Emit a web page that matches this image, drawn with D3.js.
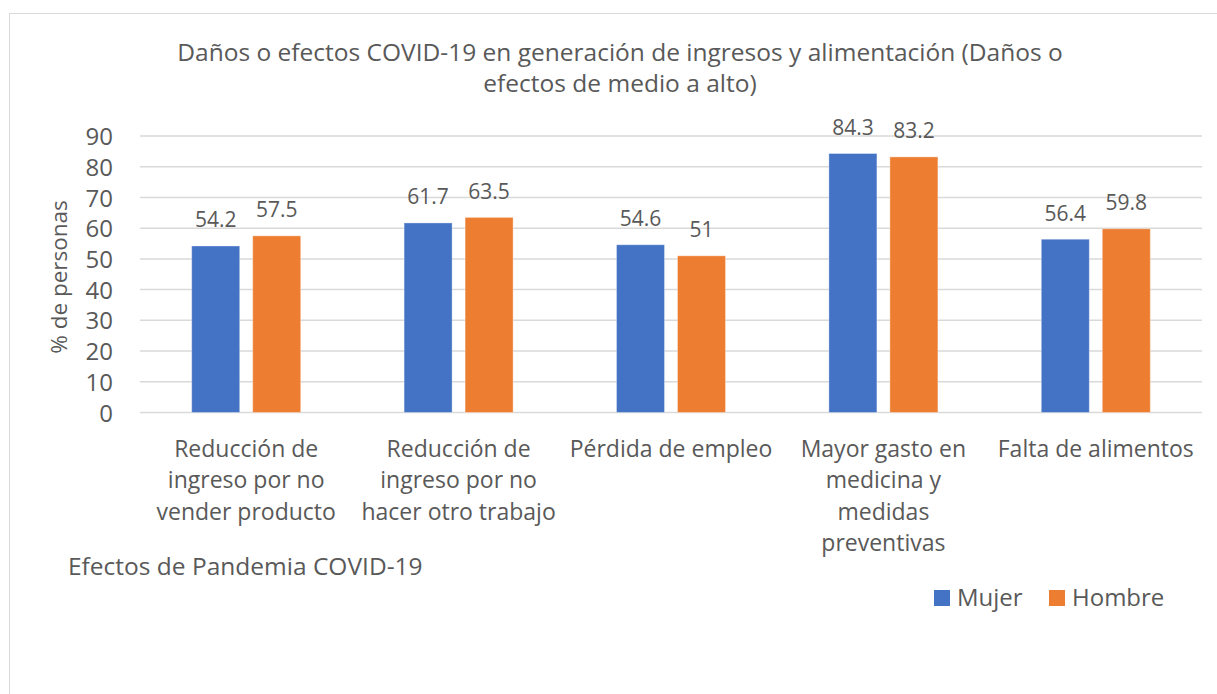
<!DOCTYPE html>
<html>
<head>
<meta charset="utf-8">
<script src="https://cdn.jsdelivr.net/npm/d3@7"></script>
<style>
  html, body { margin: 0; padding: 0; background: #fff; }
  svg text { font-family: "Open Sans", "Noto Sans", sans-serif; fill: #595959; }
</style>
</head>
<body>
<svg id="chart" width="1217" height="694"></svg>
<script>
const categories = [
  ["Reducción de", "ingreso por no", "vender producto"],
  ["Reducción de", "ingreso por no", "hacer otro trabajo"],
  ["Pérdida de empleo"],
  ["Mayor gasto en", "medicina y", "medidas", "preventivas"],
  ["Falta de alimentos"]
];
const seriesNames = ["Mujer", "Hombre"];
const mujer = [54.2, 61.7, 54.6, 84.3, 56.4];
const hombre = [57.5, 63.5, 51, 83.2, 59.8];
const yTicks = [0, 10, 20, 30, 40, 50, 60, 70, 80, 90];
const colors = ["#4472C4", "#ED7D31"];
const titleLines = ["Daños o efectos COVID-19 en generación de ingresos y alimentación (Daños o", "efectos de medio a alto)"];

const svg = d3.select("#chart");

// chart border
svg.append("rect").attr("x", 9.5).attr("y", 13.5).attr("width", 1240).attr("height", 720)
  .attr("fill", "#fff").attr("stroke", "#d9d9d9").attr("stroke-width", 1);

const plot = {left: 140, right: 1202, top: 136, bottom: 412.5};
const x = d3.scaleBand().domain(d3.range(categories.length)).range([plot.left, plot.right]);
const y = d3.scaleLinear().domain([0, 90]).range([plot.bottom, plot.top]);

// gridlines
svg.append("g").selectAll("line").data(yTicks).join("line")
  .attr("x1", plot.left).attr("x2", plot.right)
  .attr("y1", d => y(d)).attr("y2", d => y(d))
  .attr("stroke", "#d9d9d9").attr("stroke-width", 1.5);

// y axis labels
const yAxis = d3.axisLeft(y).tickValues(yTicks).tickSize(0).tickPadding(0);
const ya = svg.append("g").attr("transform", `translate(${113},0)`).call(yAxis);
ya.select(".domain").remove();
ya.selectAll("text").style("font-size", "24px").attr("fill", "#595959")
  .style("font-family", "'Open Sans', sans-serif").attr("dy", "0.36em");

// y axis title
svg.append("text").attr("transform", `translate(67,277) rotate(-90)`)
  .attr("text-anchor", "middle").style("font-size", "22.5px").text("% de personas");

// title
svg.append("g").selectAll("text").data(titleLines).join("text")
  .attr("x", 620).attr("y", (d, i) => 61 + i * 31)
  .attr("text-anchor", "middle").style("font-size", "24.5px").text(d => d);

// bars
const barW = 48, off = 30.5;
const data = [];
categories.forEach((c, i) => {
  data.push({i, s: 0, v: mujer[i]});
  data.push({i, s: 1, v: hombre[i]});
});
const cx = i => x(i) + x.bandwidth() / 2;
const bx = d => cx(d.i) + (d.s === 0 ? -off : off) - barW / 2;
svg.append("g").selectAll("rect").data(data).join("rect")
  .attr("x", bx).attr("width", barW)
  .attr("y", d => y(d.v)).attr("height", d => y(0) - y(d.v))
  .attr("fill", d => colors[d.s])
  .attr("stroke", "#ffffff").attr("stroke-opacity", 0.35).attr("stroke-width", 1);

// value labels
svg.append("g").selectAll("text").data(data).join("text")
  .attr("x", d => bx(d) + barW / 2).attr("y", d => y(d.v) - 18.5)
  .attr("text-anchor", "middle").style("font-size", "21px").text(d => d.v);

// category labels
const cg = svg.append("g");
categories.forEach((lines, i) => {
  cg.append("text").attr("text-anchor", "middle").style("font-size", "23px")
    .selectAll("tspan").data(lines).join("tspan")
    .attr("x", cx(i)).attr("y", (d, k) => 457 + k * 31.3).text(d => d);
});

// x axis title
svg.append("text").attr("x", 68).attr("y", 575).style("font-size", "24.5px").text("Efectos de Pandemia COVID-19");

// legend
const lg = svg.append("g");
const legX = [934, 1049];
seriesNames.forEach((n, i) => {
  lg.append("rect").attr("x", legX[i]).attr("y", 590).attr("width", 16).attr("height", 16).attr("fill", colors[i]);
  lg.append("text").attr("x", legX[i] + 23).attr("y", 605.5).style("font-size", "24px").text(n);
});
</script>
</body>
</html>
